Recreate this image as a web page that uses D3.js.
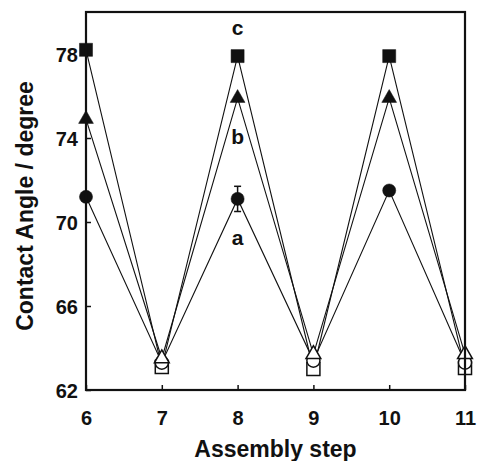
<!DOCTYPE html>
<html>
<head>
<meta charset="utf-8">
<script src="https://cdn.jsdelivr.net/npm/d3@7"></script>
<style>
  body { margin: 0; background: white; }
  svg { display: block; font-family: "Liberation Sans", Arial, sans-serif; }
</style>
</head>
<body>
<div id="chart"></div>
<script>
// assembly steps and contact angles for the three films (a, b, c)
const steps = [6, 7, 8, 9, 10, 11];
const seriesA = [71.2, 63.3, 71.1, 63.4, 71.5, 63.3];
const seriesB = [74.9, 63.5, 75.9, 63.7, 75.9, 63.7];
const seriesC = [78.2, 63.1, 77.9, 63.0, 77.9, 63.05];
const errA = [0, 0, 0.6, 0, 0, 0];
const yTicks = [62, 66, 70, 74, 78];
const seriesLabels = ['a', 'b', 'c'];
const labelSpots = [[8, 68.9], [8, 73.7], [8, 78.9]];

const width = 478, height = 461;
const margin = { top: 12, right: 13, bottom: 71, left: 86 };

const svg = d3.select('#chart').append('svg')
    .attr('width', width)
    .attr('height', height);

const x = d3.scaleLinear().domain([6, 11]).range([margin.left, width - margin.right]);
const y = d3.scaleLinear().domain([62, 80]).range([height - margin.bottom, margin.top]);

// connecting lines
const line = d3.line().x((d, i) => x(steps[i])).y(d => y(d));
const series = [
    { vals: seriesA, shape: d3.symbolCircle, size: 135 },
    { vals: seriesB, shape: d3.symbolTriangle, size: 95 },
    { vals: seriesC, shape: d3.symbolSquare, size: 170 }
];

series.forEach(s => {
    svg.append('path')
        .attr('d', line(s.vals))
        .attr('fill', 'none')
        .attr('stroke', '#111')
        .attr('stroke-width', 1.1);
});

// error bars (only visible one for series a at step 8)
steps.forEach((st, i) => {
    if (!errA[i]) return;
    const cx = x(st), y0 = y(seriesA[i] - errA[i]), y1 = y(seriesA[i] + errA[i]);
    const g = svg.append('g').attr('stroke', '#111').attr('stroke-width', 1.5);
    g.append('line').attr('x1', cx).attr('x2', cx).attr('y1', y0).attr('y2', y1);
    g.append('line').attr('x1', cx - 3.5).attr('x2', cx + 3.5).attr('y1', y0).attr('y2', y0);
    g.append('line').attr('x1', cx - 3.5).attr('x2', cx + 3.5).attr('y1', y1).attr('y2', y1);
});

// markers: filled at even steps, open at odd steps
[series[2], series[0], series[1]].forEach(s => {
    svg.selectAll(null)
        .data(s.vals)
        .enter()
        .append('path')
        .attr('d', d3.symbol().type(s.shape).size(s.size))
        .attr('transform', (d, i) => `translate(${x(steps[i])},${y(d)})`)
        .attr('fill', (d, i) => steps[i] % 2 === 0 ? '#111' : 'white')
        .attr('stroke', '#111')
        .attr('stroke-width', (d, i) => steps[i] % 2 === 0 ? 0.5 : 1.5);
});

// axes
const xAxis = svg.append('g')
    .attr('transform', `translate(0,${height - margin.bottom})`)
    .call(d3.axisBottom(x).tickValues(steps).tickFormat(d3.format('d')).tickSizeInner(-5).tickSizeOuter(0).tickPadding(21));
const yAxis = svg.append('g')
    .attr('transform', `translate(${margin.left},0)`)
    .call(d3.axisLeft(y).tickValues(yTicks).tickSizeInner(-5).tickSizeOuter(0).tickPadding(8));

[xAxis, yAxis].forEach(ax => {
    ax.select('.domain').remove();
    ax.selectAll('.tick line').attr('stroke', '#111').attr('stroke-width', 1.5);
    ax.selectAll('.tick text')
        .attr('fill', '#111')
        .style('font-size', '20px')
        .style('font-weight', 'bold')
        .style('font-family', '"Liberation Sans", Arial, sans-serif');
});
yAxis.selectAll('.tick text').attr('dy', '0.36em');

// frame
svg.append('rect')
    .attr('x', margin.left)
    .attr('y', margin.top)
    .attr('width', width - margin.left - margin.right)
    .attr('height', height - margin.top - margin.bottom)
    .attr('fill', 'none')
    .attr('stroke', '#111')
    .attr('stroke-width', 2.2);

// series labels
svg.selectAll('.slabel')
    .data(seriesLabels)
    .enter()
    .append('text')
    .attr('class', 'slabel')
    .attr('x', (d, i) => x(labelSpots[i][0]))
    .attr('y', (d, i) => y(labelSpots[i][1]))
    .attr('text-anchor', 'middle')
    .style('font-size', '21px')
    .style('font-weight', 'bold')
    .attr('fill', '#111')
    .text(d => d);

// axis titles
svg.append('text')
    .attr('x', (margin.left + width - margin.right) / 2)
    .attr('y', 457)
    .attr('text-anchor', 'middle')
    .style('font-size', '23px')
    .style('font-weight', 'bold')
    .attr('fill', '#111')
    .text('Assembly step');

svg.append('text')
    .attr('transform', 'translate(33,206) rotate(-90)')
    .attr('text-anchor', 'middle')
    .style('font-size', '23px')
    .style('font-weight', 'bold')
    .attr('fill', '#111')
    .text('Contact Angle / degree');
</script>
</body>
</html>
